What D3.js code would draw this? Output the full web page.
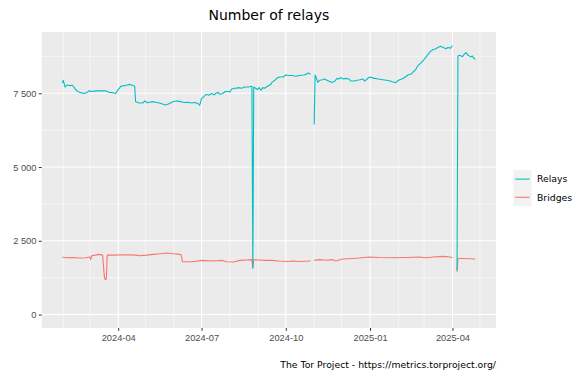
<!DOCTYPE html>
<html>
<head>
<meta charset="utf-8">
<script src="https://cdn.jsdelivr.net/npm/d3@7"></script>
<style>
  body { margin: 0; background: #fff; }
  svg { display: block; font-family: "DejaVu Sans", sans-serif; }
  .axis text { fill: #4d4d4d; font-size: 9.3px; }
  .axis line { stroke: #333; }
  .axis path { display: none; }
</style>
</head>
<body>
<div id="chart"></div>
<script>
// values, [day, count]; null = no data that day
const relays = [
  ["2024-01-31", 7850], ["2024-02-01", 7940], ["2024-02-03", 7710], ["2024-02-05", 7780],
  ["2024-02-08", 7760], ["2024-02-11", 7770], ["2024-02-13", 7690], ["2024-02-15", 7600],
  ["2024-02-17", 7560], ["2024-02-19", 7530], ["2024-02-24", 7490], ["2024-02-27", 7530],
  ["2024-02-29", 7580], ["2024-03-04", 7560], ["2024-03-07", 7580], ["2024-03-13", 7580],
  ["2024-03-18", 7585], ["2024-03-22", 7530], ["2024-03-26", 7520], ["2024-03-29", 7490],
  ["2024-03-31", 7580], ["2024-04-04", 7740], ["2024-04-08", 7760], ["2024-04-11", 7780],
  ["2024-04-14", 7800], ["2024-04-17", 7760], ["2024-04-19", 7740], ["2024-04-20", 7210],
  ["2024-04-24", 7170], ["2024-04-28", 7170], ["2024-04-30", 7240], ["2024-05-03", 7180],
  ["2024-05-05", 7195], ["2024-05-09", 7215], ["2024-05-12", 7195], ["2024-05-16", 7170],
  ["2024-05-20", 7130], ["2024-05-23", 7100], ["2024-05-27", 7150], ["2024-05-31", 7220],
  ["2024-06-04", 7240], ["2024-06-07", 7225], ["2024-06-11", 7195], ["2024-06-13", 7185],
  ["2024-06-16", 7195], ["2024-06-20", 7170], ["2024-06-24", 7185], ["2024-06-27", 7150],
  ["2024-06-29", 7100], ["2024-07-01", 7320], ["2024-07-04", 7400], ["2024-07-06", 7465],
  ["2024-07-09", 7430], ["2024-07-12", 7490], ["2024-07-15", 7445], ["2024-07-17", 7510],
  ["2024-07-19", 7530], ["2024-07-21", 7465], ["2024-07-24", 7490], ["2024-07-27", 7560],
  ["2024-07-30", 7560], ["2024-08-01", 7540], ["2024-08-03", 7645], ["2024-08-06", 7670],
  ["2024-08-08", 7670], ["2024-08-10", 7690], ["2024-08-14", 7670], ["2024-08-17", 7710],
  ["2024-08-21", 7710], ["2024-08-25", 7735], ["2024-08-26", 1580], ["2024-08-27", 7710],
  ["2024-08-31", 7625], ["2024-09-02", 7690], ["2024-09-04", 7600], ["2024-09-06", 7690],
  ["2024-09-08", 7670], ["2024-09-11", 7735], ["2024-09-14", 7780], ["2024-09-16", 7870],
  ["2024-09-19", 7940], ["2024-09-22", 8030], ["2024-09-25", 8050], ["2024-09-28", 8050],
  ["2024-10-01", 8120], ["2024-10-05", 8100], ["2024-10-08", 8100], ["2024-10-12", 8075],
  ["2024-10-16", 8100], ["2024-10-21", 8120], ["2024-10-24", 8165], ["2024-10-26", 8185],
  ["2024-10-28", 8140], ["2024-10-30", null], ["2024-11-01", 6440], ["2024-11-02", 8120],
  ["2024-11-03", 8050], ["2024-11-05", 7870], ["2024-11-07", 7940], ["2024-11-10", 7960],
  ["2024-11-12", 7985], ["2024-11-15", 7940], ["2024-11-18", 7895], ["2024-11-21", 7870],
  ["2024-11-23", 7895], ["2024-11-26", 8005], ["2024-11-28", 7985], ["2024-11-30", 8030],
  ["2024-12-03", 7985], ["2024-12-05", 8005], ["2024-12-09", 7985], ["2024-12-11", 7915],
  ["2024-12-15", 7915], ["2024-12-18", 7940], ["2024-12-21", 7960], ["2024-12-24", 7985],
  ["2024-12-26", 7915], ["2024-12-29", 7985], ["2024-12-31", 8050], ["2025-01-03", 8030],
  ["2025-01-06", 8005], ["2025-01-10", 7985], ["2025-01-15", 7960], ["2025-01-19", 7940],
  ["2025-01-23", 7915], ["2025-01-26", 7880], ["2025-01-29", 7860], ["2025-02-01", 7940],
  ["2025-02-04", 7975], ["2025-02-07", 8015], ["2025-02-10", 8085], ["2025-02-12", 8130],
  ["2025-02-15", 8155], ["2025-02-17", 8220], ["2025-02-20", 8310], ["2025-02-22", 8425],
  ["2025-02-25", 8515], ["2025-02-28", 8605], ["2025-03-03", 8715], ["2025-03-05", 8810],
  ["2025-03-08", 8920], ["2025-03-11", 8985], ["2025-03-14", 9010], ["2025-03-16", 9050],
  ["2025-03-19", 9095], ["2025-03-22", 9050], ["2025-03-25", 9010], ["2025-03-27", 9050],
  ["2025-03-30", 9030], ["2025-04-01", 9120], ["2025-04-03", null], ["2025-04-06", 1500],
  ["2025-04-07", 8760], ["2025-04-09", 8785], ["2025-04-12", 8740], ["2025-04-14", 8830],
  ["2025-04-16", 8875], ["2025-04-18", 8785], ["2025-04-21", 8740], ["2025-04-23", 8760],
  ["2025-04-24", 8695], ["2025-04-26", 8650]
];

const bridges = [
  ["2024-01-31", 1950], ["2024-02-04", 1925], ["2024-02-11", 1935], ["2024-02-19", 1915],
  ["2024-02-26", 1925], ["2024-03-01", 1950], ["2024-03-02", 1860], ["2024-03-03", 1995],
  ["2024-03-07", 2015], ["2024-03-11", 2040], ["2024-03-15", 2015], ["2024-03-16", 1620],
  ["2024-03-17", 1240], ["2024-03-18", 1180], ["2024-03-19", 1200], ["2024-03-20", 2015],
  ["2024-03-26", 2015], ["2024-04-10", 2025], ["2024-04-21", 2015], ["2024-04-24", 1995],
  ["2024-05-02", 2015], ["2024-05-09", 2040], ["2024-05-17", 2060], ["2024-05-24", 2085],
  ["2024-05-31", 2060], ["2024-06-07", 2040], ["2024-06-09", 2015], ["2024-06-10", 1790],
  ["2024-06-21", 1790], ["2024-07-02", 1835], ["2024-07-13", 1815], ["2024-07-24", 1835],
  ["2024-07-28", 1790], ["2024-08-05", 1780], ["2024-08-12", 1835], ["2024-08-19", 1850],
  ["2024-08-25", 1860], ["2024-08-26", 1580], ["2024-08-27", 1860], ["2024-09-02", 1850],
  ["2024-09-09", 1835], ["2024-09-16", 1835], ["2024-09-23", 1815], ["2024-10-02", 1800],
  ["2024-10-09", 1815], ["2024-10-16", 1800], ["2024-10-28", 1815], ["2024-10-30", null],
  ["2024-11-01", 1835], ["2024-11-07", 1860], ["2024-11-14", 1840], ["2024-11-21", 1860],
  ["2024-11-25", 1815], ["2024-12-02", 1880], ["2024-12-13", 1900], ["2024-12-20", 1915],
  ["2024-12-31", 1950], ["2025-01-11", 1935], ["2025-01-26", 1925], ["2025-02-10", 1935],
  ["2025-02-24", 1950], ["2025-03-03", 1925], ["2025-03-11", 1950], ["2025-03-22", 1970],
  ["2025-03-29", 1950], ["2025-04-01", 1925], ["2025-04-03", null], ["2025-04-06", 1450],
  ["2025-04-07", 1900], ["2025-04-13", 1900], ["2025-04-21", 1890], ["2025-04-26", 1880]
];

const seriesNames = ["Relays", "Bridges"];
const seriesColors = ["#00bfc4", "#f8766d"];
const yTicks = [0, 2500, 5000, 7500];
const xTicks = ["2024-04-01", "2024-07-01", "2024-10-01", "2025-01-01", "2025-04-01"];
const title = "Number of relays";
const caption = "The Tor Project - https://metrics.torproject.org/";

class RelayChart {
  constructor(_config) {
    this.config = {
      parentElement: _config.parentElement,
      containerWidth: _config.containerWidth || 578,
      containerHeight: _config.containerHeight || 376,
      margin: _config.margin || { top: 32, right: 82, bottom: 48, left: 41.7 }
    };
    this.initVis();
  }

  initVis() {
    let vis = this;
    const m = vis.config.margin;
    vis.width = vis.config.containerWidth - m.left - m.right;
    vis.height = vis.config.containerHeight - m.top - m.bottom;

    vis.svg = d3.select(vis.config.parentElement).append("svg")
      .attr("width", vis.config.containerWidth)
      .attr("height", vis.config.containerHeight);

    vis.chart = vis.svg.append("g")
      .attr("transform", `translate(${m.left},${m.top})`);

    const parse = d3.timeParse("%Y-%m-%d");
    vis.series = [relays, bridges].map((s, i) => ({
      name: seriesNames[i],
      color: seriesColors[i],
      values: s.map(d => ({ date: parse(d[0]), value: d[1] }))
    }));

    // ggplot style 5% expansion on both axes, y limits include 0
    const all = vis.series.flatMap(s => s.values);
    const [d0, d1] = d3.extent(all, d => d.date);
    const dx = (d1 - d0) * 0.05;
    vis.xScale = d3.scaleTime()
      .domain([new Date(+d0 - dx), new Date(+d1 + dx)])
      .range([0, vis.width]);
    const yMax = d3.max(all, d => d.value);
    vis.yScale = d3.scaleLinear()
      .domain([-yMax * 0.05, yMax * 1.05])
      .range([vis.height, 0]);

    vis.xTickDates = xTicks.map(parse);
    vis.renderVis();
  }

  renderVis() {
    let vis = this;

    vis.chart.append("rect")
      .attr("width", vis.width)
      .attr("height", vis.height)
      .attr("fill", "#ebebeb");

    // minor grid: monthly on x, half steps on y
    const xMinor = d3.timeMonth.range(...vis.xScale.domain())
      .filter(d => !vis.xTickDates.some(t => +t === +d));
    const yMinor = yTicks.map(v => v + 1250)
      .filter(v => v < vis.yScale.domain()[1]);

    const grid = vis.chart.append("g").attr("stroke", "#fff");
    grid.selectAll(".xmin").data(xMinor).join("line")
      .attr("x1", d => vis.xScale(d)).attr("x2", d => vis.xScale(d))
      .attr("y1", 0).attr("y2", vis.height)
      .attr("stroke-width", 0.55);
    grid.selectAll(".ymin").data(yMinor).join("line")
      .attr("y1", d => vis.yScale(d)).attr("y2", d => vis.yScale(d))
      .attr("x1", 0).attr("x2", vis.width)
      .attr("stroke-width", 0.55);
    grid.selectAll(".xmaj").data(vis.xTickDates).join("line")
      .attr("x1", d => vis.xScale(d)).attr("x2", d => vis.xScale(d))
      .attr("y1", 0).attr("y2", vis.height)
      .attr("stroke-width", 1.1);
    grid.selectAll(".ymaj").data(yTicks).join("line")
      .attr("y1", d => vis.yScale(d)).attr("y2", d => vis.yScale(d))
      .attr("x1", 0).attr("x2", vis.width)
      .attr("stroke-width", 1.1);

    const fmt = d3.formatLocale({ decimal: ".", thousands: " ", grouping: [3], currency: ["", ""] }).format(",");

    vis.chart.append("g")
      .attr("class", "axis x-axis")
      .attr("transform", `translate(0,${vis.height})`)
      .call(d3.axisBottom(vis.xScale).tickValues(vis.xTickDates)
        .tickFormat(d3.timeFormat("%Y-%m")).tickSize(2.9).tickPadding(3));

    vis.chart.append("g")
      .attr("class", "axis y-axis")
      .call(d3.axisLeft(vis.yScale).tickValues(yTicks)
        .tickFormat(fmt).tickSize(2.9).tickPadding(2.4));

    const line = d3.line()
      .defined(d => d.value != null)
      .x(d => vis.xScale(d.date))
      .y(d => vis.yScale(d.value));

    // bridges underneath, relays on top
    vis.chart.selectAll(".series")
      .data(vis.series.slice().reverse())
      .join("path")
      .attr("class", "series")
      .attr("fill", "none")
      .attr("stroke", d => d.color)
      .attr("stroke-width", 1.1)
      .attr("stroke-linejoin", "round")
      .attr("d", d => line(d.values));

    vis.svg.append("text")
      .attr("x", vis.config.margin.left + vis.width / 2)
      .attr("y", 20)
      .attr("text-anchor", "middle")
      .attr("font-size", "14px")
      .attr("fill", "#000")
      .text(title);

    vis.svg.append("text")
      .attr("x", vis.config.margin.left + vis.width)
      .attr("y", 367.5)
      .attr("text-anchor", "end")
      .attr("font-size", "9.3px")
      .attr("fill", "#000")
      .text(caption);

    // legend
    const key = 18.2;
    const legend = vis.svg.append("g")
      .attr("transform", "translate(513.3,170)");
    const items = legend.selectAll("g").data(vis.series).join("g")
      .attr("transform", (d, i) => `translate(0,${i * key})`);
    items.append("rect")
      .attr("width", key).attr("height", key)
      .attr("fill", "#f2f2f2");
    items.append("line")
      .attr("x1", key * 0.1).attr("x2", key * 0.9)
      .attr("y1", key / 2).attr("y2", key / 2)
      .attr("stroke", d => d.color)
      .attr("stroke-width", 1.1);
    items.append("text")
      .attr("x", key + 5.5)
      .attr("y", key / 2)
      .attr("dy", "0.35em")
      .attr("font-size", "9.3px")
      .attr("fill", "#000")
      .text(d => d.name);
  }
}

new RelayChart({ parentElement: "#chart" });
</script>
</body>
</html>
